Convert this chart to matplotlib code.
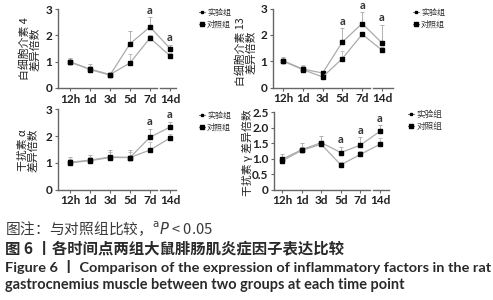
import matplotlib
matplotlib.use('Agg')
import matplotlib.pyplot as plt
from matplotlib.lines import Line2D
import numpy as np

W, H = 493, 300
fig = plt.figure(figsize=(W / 100, H / 100), dpi=100)

CJK = 'Noto Sans CJK SC'
LAT = 'Lato'

time_labels = ['12h', '1d', '3d', '5d', '7d', '14d']
legend_labels = ['实验组', '对照组']

# IL-4
il4_exp = [1.00, 0.70, 0.49, 1.68, 2.32, 1.50]
il4_ctrl = [0.98, 0.72, 0.51, 0.95, 1.90, 1.22]
il4_exp_err = [0.15, 0.20, 0.05, 0.47, 0.38, 0.15]
il4_ctrl_err = [0.10, 0.10, 0.05, 0.33, 0.10, 0.10]
il4_sig = [4, 5]

# IL-13
il13_exp = [1.02, 0.70, 0.55, 1.73, 2.43, 1.69]
il13_ctrl = [1.00, 0.68, 0.40, 1.10, 2.02, 1.42]
il13_exp_err = [0.12, 0.10, 0.05, 0.52, 0.42, 0.69]
il13_ctrl_err = [0.08, 0.18, 0.05, 0.30, 0.10, 0.10]
il13_sig = [3, 4, 5]

# TNF-alpha
tnf_exp = [1.02, 1.10, 1.22, 1.20, 1.96, 2.34]
tnf_ctrl = [1.00, 1.08, 1.20, 1.20, 1.48, 1.93]
tnf_exp_err = [0.20, 0.20, 0.25, 0.30, 0.32, 0.20]
tnf_ctrl_err = [0.15, 0.15, 0.20, 0.20, 0.30, 0.15]
tnf_sig = [4, 5]

# IFN-gamma
ifn_exp = [0.98, 1.29, 1.52, 1.20, 1.44, 1.89]
ifn_ctrl = [0.93, 1.27, 1.47, 0.80, 1.14, 1.47]
ifn_exp_err = [0.18, 0.22, 0.22, 0.19, 0.25, 0.20]
ifn_ctrl_err = [0.10, 0.10, 0.10, 0.10, 0.10, 0.20]
ifn_sig = [3, 4, 5]

LINE_C = '#ababab'
AX_C = '#666666'
TXT_C = '#222222'


def panel(geo, ymax, yticks, yticklabels, exp, ctrl, exp_err, ctrl_err, sig,
          ylabel, ylabel_xy, legend_xy, legend_fs):
    yaxis_x, x12, x14, ytop, ybot, right, main_end, brk0, brk1 = geo
    unit = (x14 - x12) / 5.0
    tox = lambda p: (p - x12) / unit
    ax = fig.add_axes([yaxis_x / W, 1 - ybot / H, (right - yaxis_x) / W, (ybot - ytop) / H])
    ax.set_xlim(tox(yaxis_x), tox(right))
    ax.set_ylim(0, ymax)
    x = np.arange(len(time_labels))
    ax.errorbar(x, ctrl, yerr=[np.zeros(len(x)), ctrl_err], fmt='none', ecolor='#c0c0c0',
                elinewidth=0.7, capsize=1.2, capthick=0.7, zorder=2)
    ax.errorbar(x, exp, yerr=[np.zeros(len(x)), exp_err], fmt='none', ecolor='#b0b0b0',
                elinewidth=0.7, capsize=1.2, capthick=0.7, zorder=2)
    ax.plot(x, exp, color=LINE_C, lw=0.9, marker='s', ms=2.8, mfc='black', mec='black', zorder=3)
    ax.plot(x, ctrl, color=LINE_C, lw=0.9, marker='s', ms=2.8, mfc='black', mec='black', zorder=3)
    for i in sig:
        top = max(exp[i] + exp_err[i], ctrl[i] + ctrl_err[i])
        ax.annotate('a', (i, top), xytext=(0, 1.0), textcoords='offset points', ha='center',
                    va='bottom', fontsize=8, family=LAT, weight='bold', color='#333333',
                    annotation_clip=False)
    for s in ['top', 'right', 'bottom']:
        ax.spines[s].set_visible(False)
    ax.spines['left'].set_color(AX_C)
    ax.spines['left'].set_linewidth(1.0)
    trans = ax.get_xaxis_transform()
    ax.plot([tox(yaxis_x), tox(main_end)], [0, 0], transform=trans, color=AX_C, lw=1.0, clip_on=False)
    ax.plot([tox(brk0), tox(brk1)], [0, 0], transform=trans, color=AX_C, lw=1.0, clip_on=False)
    ax.set_xticks(x)
    ax.set_xticklabels(time_labels, family=LAT, fontsize=8.5, color=TXT_C, weight='bold')
    ax.set_yticks(yticks)
    ax.set_yticklabels(yticklabels, family=LAT, fontsize=8.5, color=TXT_C, weight='bold')
    ax.tick_params(axis='both', length=2.5, width=0.8, color=AX_C, pad=1.5)
    fig.text(ylabel_xy[0] / W, 1 - ylabel_xy[1] / H, ylabel, rotation=90, ha='center', va='center',
             multialignment='center', family=[CJK, 'DejaVu Sans'], fontsize=7.8, color=TXT_C,
             linespacing=1.05)
    handles = [Line2D([], [], color='#555555', lw=0.6, marker='s', ms=1.8, mfc='black', mec='black'),
               Line2D([], [], color='#555555', lw=0.6, marker='s', ms=2.2, mfc='black', mec='black')]
    fig.legend(handles, legend_labels, loc='upper left', bbox_to_anchor=(legend_xy[0] / W, 1 - legend_xy[1] / H),
               bbox_transform=fig.transFigure, frameon=False,
               prop={'family': CJK, 'size': legend_fs}, labelcolor='#333333',
               handlelength=0.7, handletextpad=0.3, labelspacing=0.3, borderaxespad=0, borderpad=0)
    return ax


# geometry: yaxis_x, x12h, x14d, ytop, ybot, right, main_end, brk0, brk1 (pixels)
panel((58, 70, 170, 9, 88, 180, 157, 160, 176), 3, [0, 1, 2, 3], ['0', '1', '2', '3'],
      il4_exp, il4_ctrl, il4_exp_err, il4_ctrl_err, il4_sig,
      '白细胞介素 4\n差异倍数', (30, 49), (199, 8), 5.8)
panel((273, 283, 382, 8.5, 87.5, 395, 370, 373, 393), 3, [0, 1, 2, 3], ['0', '1', '2', '3'],
      il13_exp, il13_ctrl, il13_exp_err, il13_ctrl_err, il13_sig,
      '白细胞介素 13\n差异倍数', (246, 52), (413, 8), 5.8)
panel((58, 70, 170, 109.5, 189.5, 180, 157, 160, 176), 3, [0, 1, 2, 3], ['0', '1', '2', '3'],
      tnf_exp, tnf_ctrl, tnf_exp_err, tnf_ctrl_err, tnf_sig,
      '干扰素 α\n差异倍数', (28, 150), (199, 111), 5.8)
panel((274, 282, 380, 112.5, 189.5, 392, 370, 373, 389), 2.5, [0, 0.5, 1.0, 1.5, 2.0, 2.5],
      ['0', '0.5', '1.0', '1.5', '2.0', '2.5'],
      ifn_exp, ifn_ctrl, ifn_exp_err, ifn_ctrl_err, ifn_sig,
      '干扰素 γ 差异倍数', (247, 153), (408, 110), 6.2)

# captions
renderer = fig.canvas.get_renderer()


def fit_text(x, yc, s, target_w, size, **kw):
    t = fig.text(x / W, 1 - yc / H, s, ha='left', va='center', fontsize=size, **kw)
    w = t.get_window_extent(renderer).width
    t.set_fontsize(size * target_w / w)
    return t


fit_text(5, 229, '图注：与对照组比较，$^{\\mathrm{a}}\\mathit{P}$ < 0.05', 208, 10,
         family=[CJK, 'DejaVu Sans'], color='#3a3a3a')
fit_text(5, 248, '图 6 丨各时间点两组大鼠腓肠肌炎症因子表达比较', 339, 10,
         family=[CJK, 'DejaVu Sans'], color='#2a2a2a', weight='bold')
fit_text(5, 267, 'Figure 6 丨 Comparison of the expression of inflammatory factors in the rat', 483, 8.5,
         family=[LAT, CJK], color='#2a2a2a', weight='bold')
fit_text(5, 285, 'gastrocnemius muscle between two groups at each time point', 398, 8.5,
         family=[LAT, CJK], color='#2a2a2a', weight='bold')

fig.savefig('out.png', dpi=100)
